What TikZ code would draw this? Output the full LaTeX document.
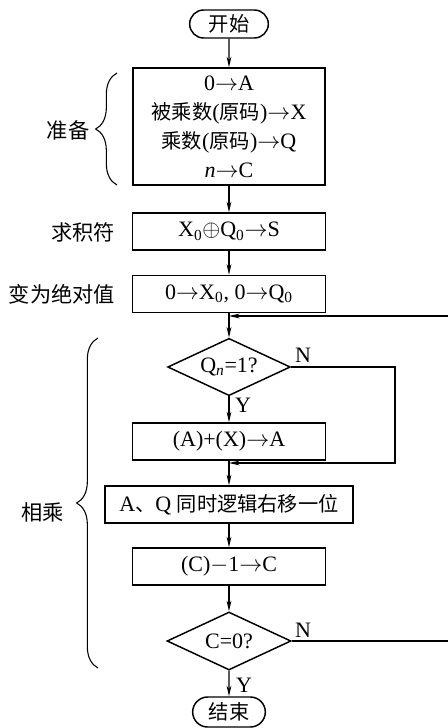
\documentclass[tikz,border=0pt]{standalone}
\usepackage{fontspec}
\setmainfont{Liberation Serif}
\newfontfamily\cjk[Scale=0.92]{Noto Sans CJK SC}
\usetikzlibrary{shapes.geometric,shapes.misc,arrows.meta,decorations.pathreplacing}
\newcommand\ra{\ensuremath{\rightarrow}}
\begin{document}
\begin{tikzpicture}[x=0.75pt,y=-0.75pt,
  every node/.style={font=\fontsize{16.5}{21.75}\selectfont},
  proc/.style={draw,line width=1.1pt,minimum width=144.75pt,minimum height=27.75pt,inner sep=2pt},
  term/.style={draw,line width=1.1pt,rounded rectangle,minimum height=21pt,inner sep=2pt},
  decis/.style={draw,line width=1.1pt,diamond,shape aspect=2,inner sep=0pt,minimum width=92pt,minimum height=43pt},
  flow/.style={line width=0.8pt,-{Stealth[length=8pt,width=3.6pt]}},
  lbl/.style={font=\cjk\fontsize{17.3}{20}\selectfont},
  yn/.style={inner sep=0pt},
  brc/.style={decorate,decoration={brace,amplitude=16pt},line width=0.8pt}]
\useasboundingbox (0,0) rectangle (448,728);
\node[term,minimum width=63pt] (start) at (229,24) {\cjk 开始};
\node[proc,minimum width=144pt,minimum height=87.75pt,align=center] (prep) at (229,126.5) {0\ra A\\{\cjk 被乘数}({\cjk 原码})\ra X\\{\cjk 乘数}({\cjk 原码})\ra Q\\\textit{n}\ra C};
\node[proc] (sign) at (229,231.5) {X\textsubscript{0}$\oplus$Q\textsubscript{0}\ra S};
\node[proc] (abs) at (229,294) {0\ra X\textsubscript{0}, 0\ra Q\textsubscript{0}};
\node[decis] (q) at (229,367) {Q\textsubscript{\textit{n}}=1?};
\node[proc] (add) at (229,441.5) {(A)+(X)\ra A};
\node[proc,minimum width=186pt] (shift) at (229,504.5) {A{\cjk 、}Q {\cjk 同时逻辑右移一位}};
\node[proc] (decr) at (229,566.5) {(C)$-$1\ra C};
\node[decis,minimum width=93pt,minimum height=43.5pt] (c) at (229,641) {C=0?};
\node[term,minimum width=58.5pt,minimum height=22.5pt] (end) at (229,712) {\cjk 结束};
\node[lbl] (l1) at (68,130) {准备};
\node[lbl] (l2) at (83,232) {求积符};
\node[lbl] (l3) at (62,294) {变为绝对值};
\node[lbl] (l4) at (43,512) {相乘};
\draw[brc] (117,185) -- (117,73);
\draw[brc] (98,668) -- (98,338);
\coordinate (m1) at (229,316);
\coordinate (m2) at (229,463);
\coordinate (rx) at (452,0);
\coordinate (qx) at (395,0);
\draw[flow] (start) -- (prep);
\draw[flow] (prep) -- (sign);
\draw[flow] (sign) -- (abs);
\draw[flow] (abs) -- (q);
\draw[flow] (q) -- (add);
\draw[flow] (add) -- (shift);
\draw[flow] (shift) -- (decr);
\draw[flow] (decr) -- (c);
\draw[flow] (c) -- (end);
\draw[flow] (q.east) -- (q.east -| qx) -- (qx |- m2) -- (m2);
\draw[flow] (c.east) -- (c.east -| rx) -- (rx |- m1) -- (m1);
\node[yn] (n1) at (303,355) {N};
\node[yn] (n2) at (303,630) {N};
\node[yn] (y1) at (243,405) {Y};
\node[yn] (y2) at (244,685) {Y};
\end{tikzpicture}
\end{document}
